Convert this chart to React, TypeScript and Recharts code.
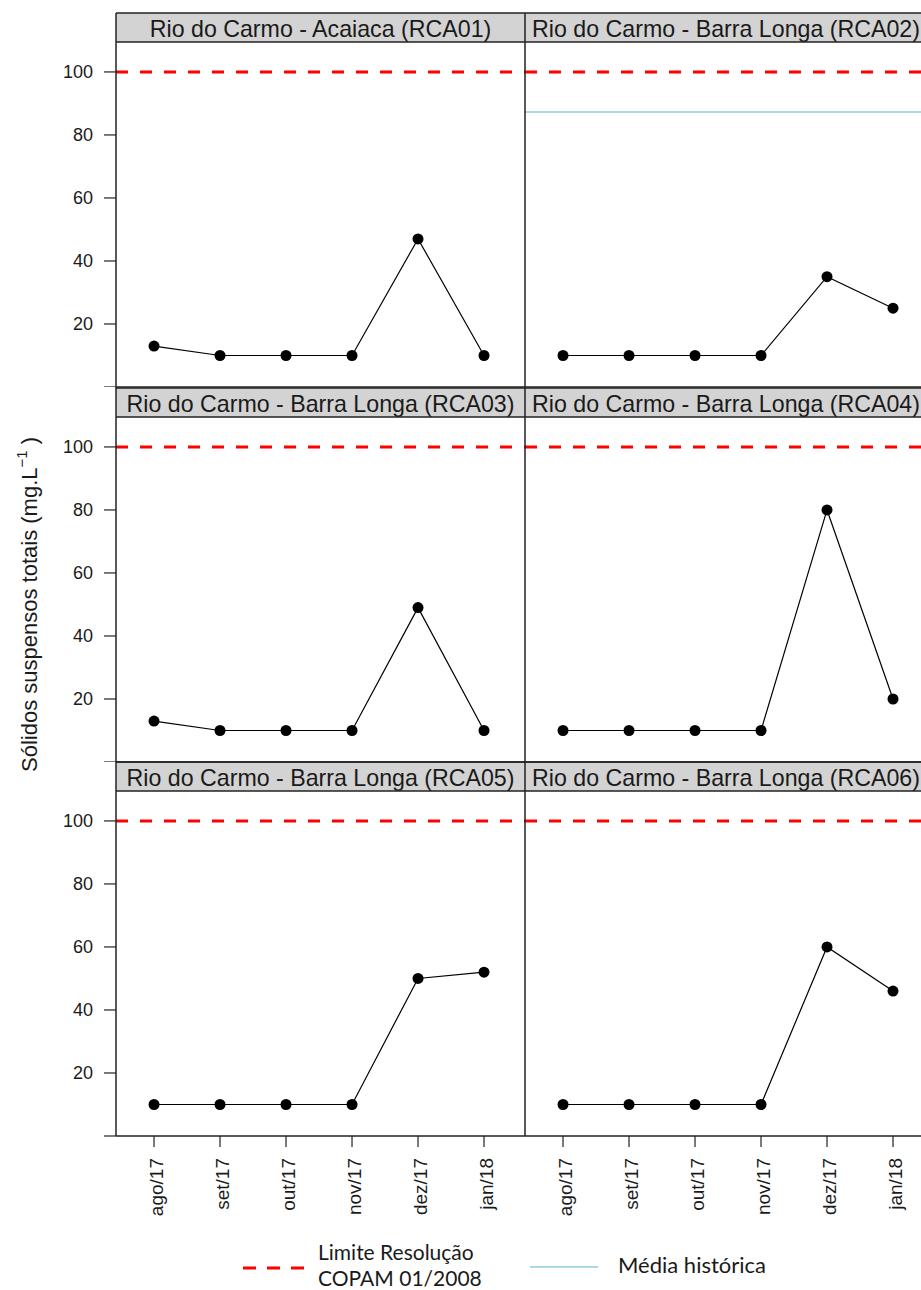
import React from 'react';
import { LineChart, Line, XAxis, YAxis, ReferenceLine } from 'recharts';

// ---- data ----
const months = ['ago/17', 'set/17', 'out/17', 'nov/17', 'dez/17', 'jan/18'];
const stationNames = [
  'Rio do Carmo - Acaiaca (RCA01)',
  'Rio do Carmo - Barra Longa (RCA02)',
  'Rio do Carmo - Barra Longa (RCA03)',
  'Rio do Carmo - Barra Longa (RCA04)',
  'Rio do Carmo - Barra Longa (RCA05)',
  'Rio do Carmo - Barra Longa (RCA06)',
];
const rca01 = [13, 10, 10, 10, 47, 10];
const rca02 = [10, 10, 10, 10, 35, 25];
const rca03 = [13, 10, 10, 10, 49, 10];
const rca04 = [10, 10, 10, 10, 80, 20];
const rca05 = [10, 10, 10, 10, 50, 52];
const rca06 = [10, 10, 10, 10, 60, 46];
const seriesList = [rca01, rca02, rca03, rca04, rca05, rca06];
const mediaHistorica: (number | null)[] = [null, 87.3, null, null, null, null];
const limiteCopam = 100;
const yTicks = [0, 20, 40, 60, 80, 100];
const yDomain: [number, number] = [0, 109.5];
const xDomain: [number, number] = [-0.576, 5.621];

// ---- layout ----
const COL_X = [116, 525];
const PANEL_W = 409;
const PLOT_TOP = [42, 417, 791];
const PLOT_H = 345;
const STRIP_H = 29;
const X_AXIS_H = 130;
const STRIP_TEXT_CX = [320.5, 726];
const SANS = '"Liberation Sans", Arial, sans-serif';
const LEGEND_FONT = 'Lato, sans-serif';
const TEXT_COLOR = '#1a1a1a';

const XTick = (props: any) => {
  const { x, y, payload } = props;
  return (
    <text
      transform={`translate(${x},${y + 9}) rotate(-90)`}
      textAnchor="end"
      dy={9}
      fontSize={19}
      fontFamily={SANS}
      fill={TEXT_COLOR}
    >
      {months[payload.value]}
    </text>
  );
};

function Panel({ idx }: { idx: number }) {
  const row = Math.floor(idx / 2);
  const col = idx % 2;
  const showY = col === 0;
  const showX = row === 2;
  const left = showY ? 0 : COL_X[1];
  const width = showY ? COL_X[0] + PANEL_W : PANEL_W;
  const height = PLOT_H + (showX ? X_AXIS_H : 0);
  const data = months.map((m, i) => ({ x: i, v: seriesList[idx][i] }));
  const media = mediaHistorica[idx];
  return (
    <div style={{ position: 'absolute', left, top: PLOT_TOP[row], width, height }}>
      <LineChart width={width} height={height} data={data} margin={{ top: 0, right: 0, bottom: 0, left: 0 }}>
        <XAxis
          type="number"
          dataKey="x"
          domain={xDomain}
          allowDataOverflow
          ticks={[0, 1, 2, 3, 4, 5]}
          hide={!showX}
          height={X_AXIS_H}
          axisLine={false}
          tickLine={{ stroke: '#333', strokeWidth: 1.3 }}
          tickSize={11}
          tickMargin={2}
          tick={<XTick />}
          interval={0}
        />
        <YAxis
          type="number"
          domain={yDomain}
          allowDataOverflow
          ticks={yTicks}
          hide={!showY}
          width={COL_X[0]}
          axisLine={false}
          tickLine={{ stroke: '#333', strokeWidth: 1.3 }}
          tickSize={12}
          tickMargin={11}
          tickFormatter={(v: number) => (v === 0 ? '' : String(v))}
          tick={{ fill: TEXT_COLOR, fontSize: 18, fontFamily: SANS }}
          interval={0}
        />
        <ReferenceLine y={limiteCopam} stroke="#ff0000" strokeWidth={3} strokeDasharray="12 12" />
        {media !== null && <ReferenceLine y={media} stroke="#add8e6" strokeWidth={2} />}
        <Line
          type="linear"
          dataKey="v"
          stroke="#000"
          strokeWidth={1.2}
          dot={{ r: 5.5, fill: '#000', stroke: '#000', strokeWidth: 0 }}
          activeDot={false}
          isAnimationActive={false}
        />
      </LineChart>
    </div>
  );
}

export default function App() {
  const bottom = PLOT_TOP[2] + PLOT_H;
  return (
    <div style={{ position: 'absolute', left: 0, top: 0, width: 921, height: 1290, overflow: 'hidden', background: '#fff' }}>
      {/* strips */}
      <svg width={921} height={1290} style={{ position: 'absolute', left: 0, top: 0 }}>
        {[0, 1, 2].map((r) =>
          [0, 1].map((c) => (
            <g key={`s${r}${c}`}>
              <rect x={COL_X[c]} y={PLOT_TOP[r] - STRIP_H} width={PANEL_W} height={STRIP_H} fill="#d3d3d3" />
              <text
                x={STRIP_TEXT_CX[c]}
                y={PLOT_TOP[r] - STRIP_H + 24}
                textAnchor="middle"
                fontSize={23.2}
                fontFamily={SANS}
                fill={TEXT_COLOR}
              >
                {stationNames[r * 2 + c]}
              </text>
            </g>
          ))
        )}
      </svg>
      {[0, 1, 2, 3, 4, 5].map((i) => (
        <Panel key={i} idx={i} />
      ))}
      {/* borders, titles, legend */}
      <svg width={921} height={1290} style={{ position: 'absolute', left: 0, top: 0, pointerEvents: 'none' }}>
        {[0, 1, 2].map((r) => (
          <g key={`b${r}`} stroke="#222" strokeWidth={1.5}>
            <line x1={COL_X[0]} x2={COL_X[1] + PANEL_W} y1={PLOT_TOP[r] - STRIP_H} y2={PLOT_TOP[r] - STRIP_H} />
            <line x1={COL_X[0]} x2={COL_X[1] + PANEL_W} y1={PLOT_TOP[r]} y2={PLOT_TOP[r]} />
            <line x1={COL_X[0]} x2={COL_X[1] + PANEL_W} y1={PLOT_TOP[r] + PLOT_H} y2={PLOT_TOP[r] + PLOT_H} />
          </g>
        ))}
        <line x1={COL_X[0]} x2={COL_X[0]} y1={PLOT_TOP[0] - STRIP_H} y2={bottom} stroke="#222" strokeWidth={1.5} />
        <line x1={COL_X[1]} x2={COL_X[1]} y1={PLOT_TOP[0] - STRIP_H} y2={bottom} stroke="#222" strokeWidth={1.5} />
        <line x1={COL_X[1] + PANEL_W} x2={COL_X[1] + PANEL_W} y1={PLOT_TOP[0] - STRIP_H} y2={bottom} stroke="#222" strokeWidth={1.5} />
        <text
          transform="translate(37,772) rotate(-90)"
          textAnchor="start"
          fontSize={22}
          fontFamily={SANS}
          fill={TEXT_COLOR}
        >
          Sólidos suspensos totais (mg.L
          <tspan dy={-10} fontSize={15}>−1</tspan>
          <tspan dy={10}> )</tspan>
        </text>
        {/* legend */}
        <line x1={243} x2={305} y1={1268} y2={1268} stroke="#ff0000" strokeWidth={3} strokeDasharray="13 11" />
        <text x={318} y={1260} fontSize={21} fontFamily={LEGEND_FONT} fill={TEXT_COLOR}>
          Limite Resolução
        </text>
        <text x={318} y={1286} fontSize={21} fontFamily={LEGEND_FONT} fill={TEXT_COLOR}>
          COPAM 01/2008
        </text>
        <line x1={530} x2={598} y1={1267} y2={1267} stroke="#add8e6" strokeWidth={2} />
        <text x={618} y={1273} fontSize={22} fontFamily={LEGEND_FONT} fill={TEXT_COLOR}>
          Média histórica
        </text>
      </svg>
    </div>
  );
}
